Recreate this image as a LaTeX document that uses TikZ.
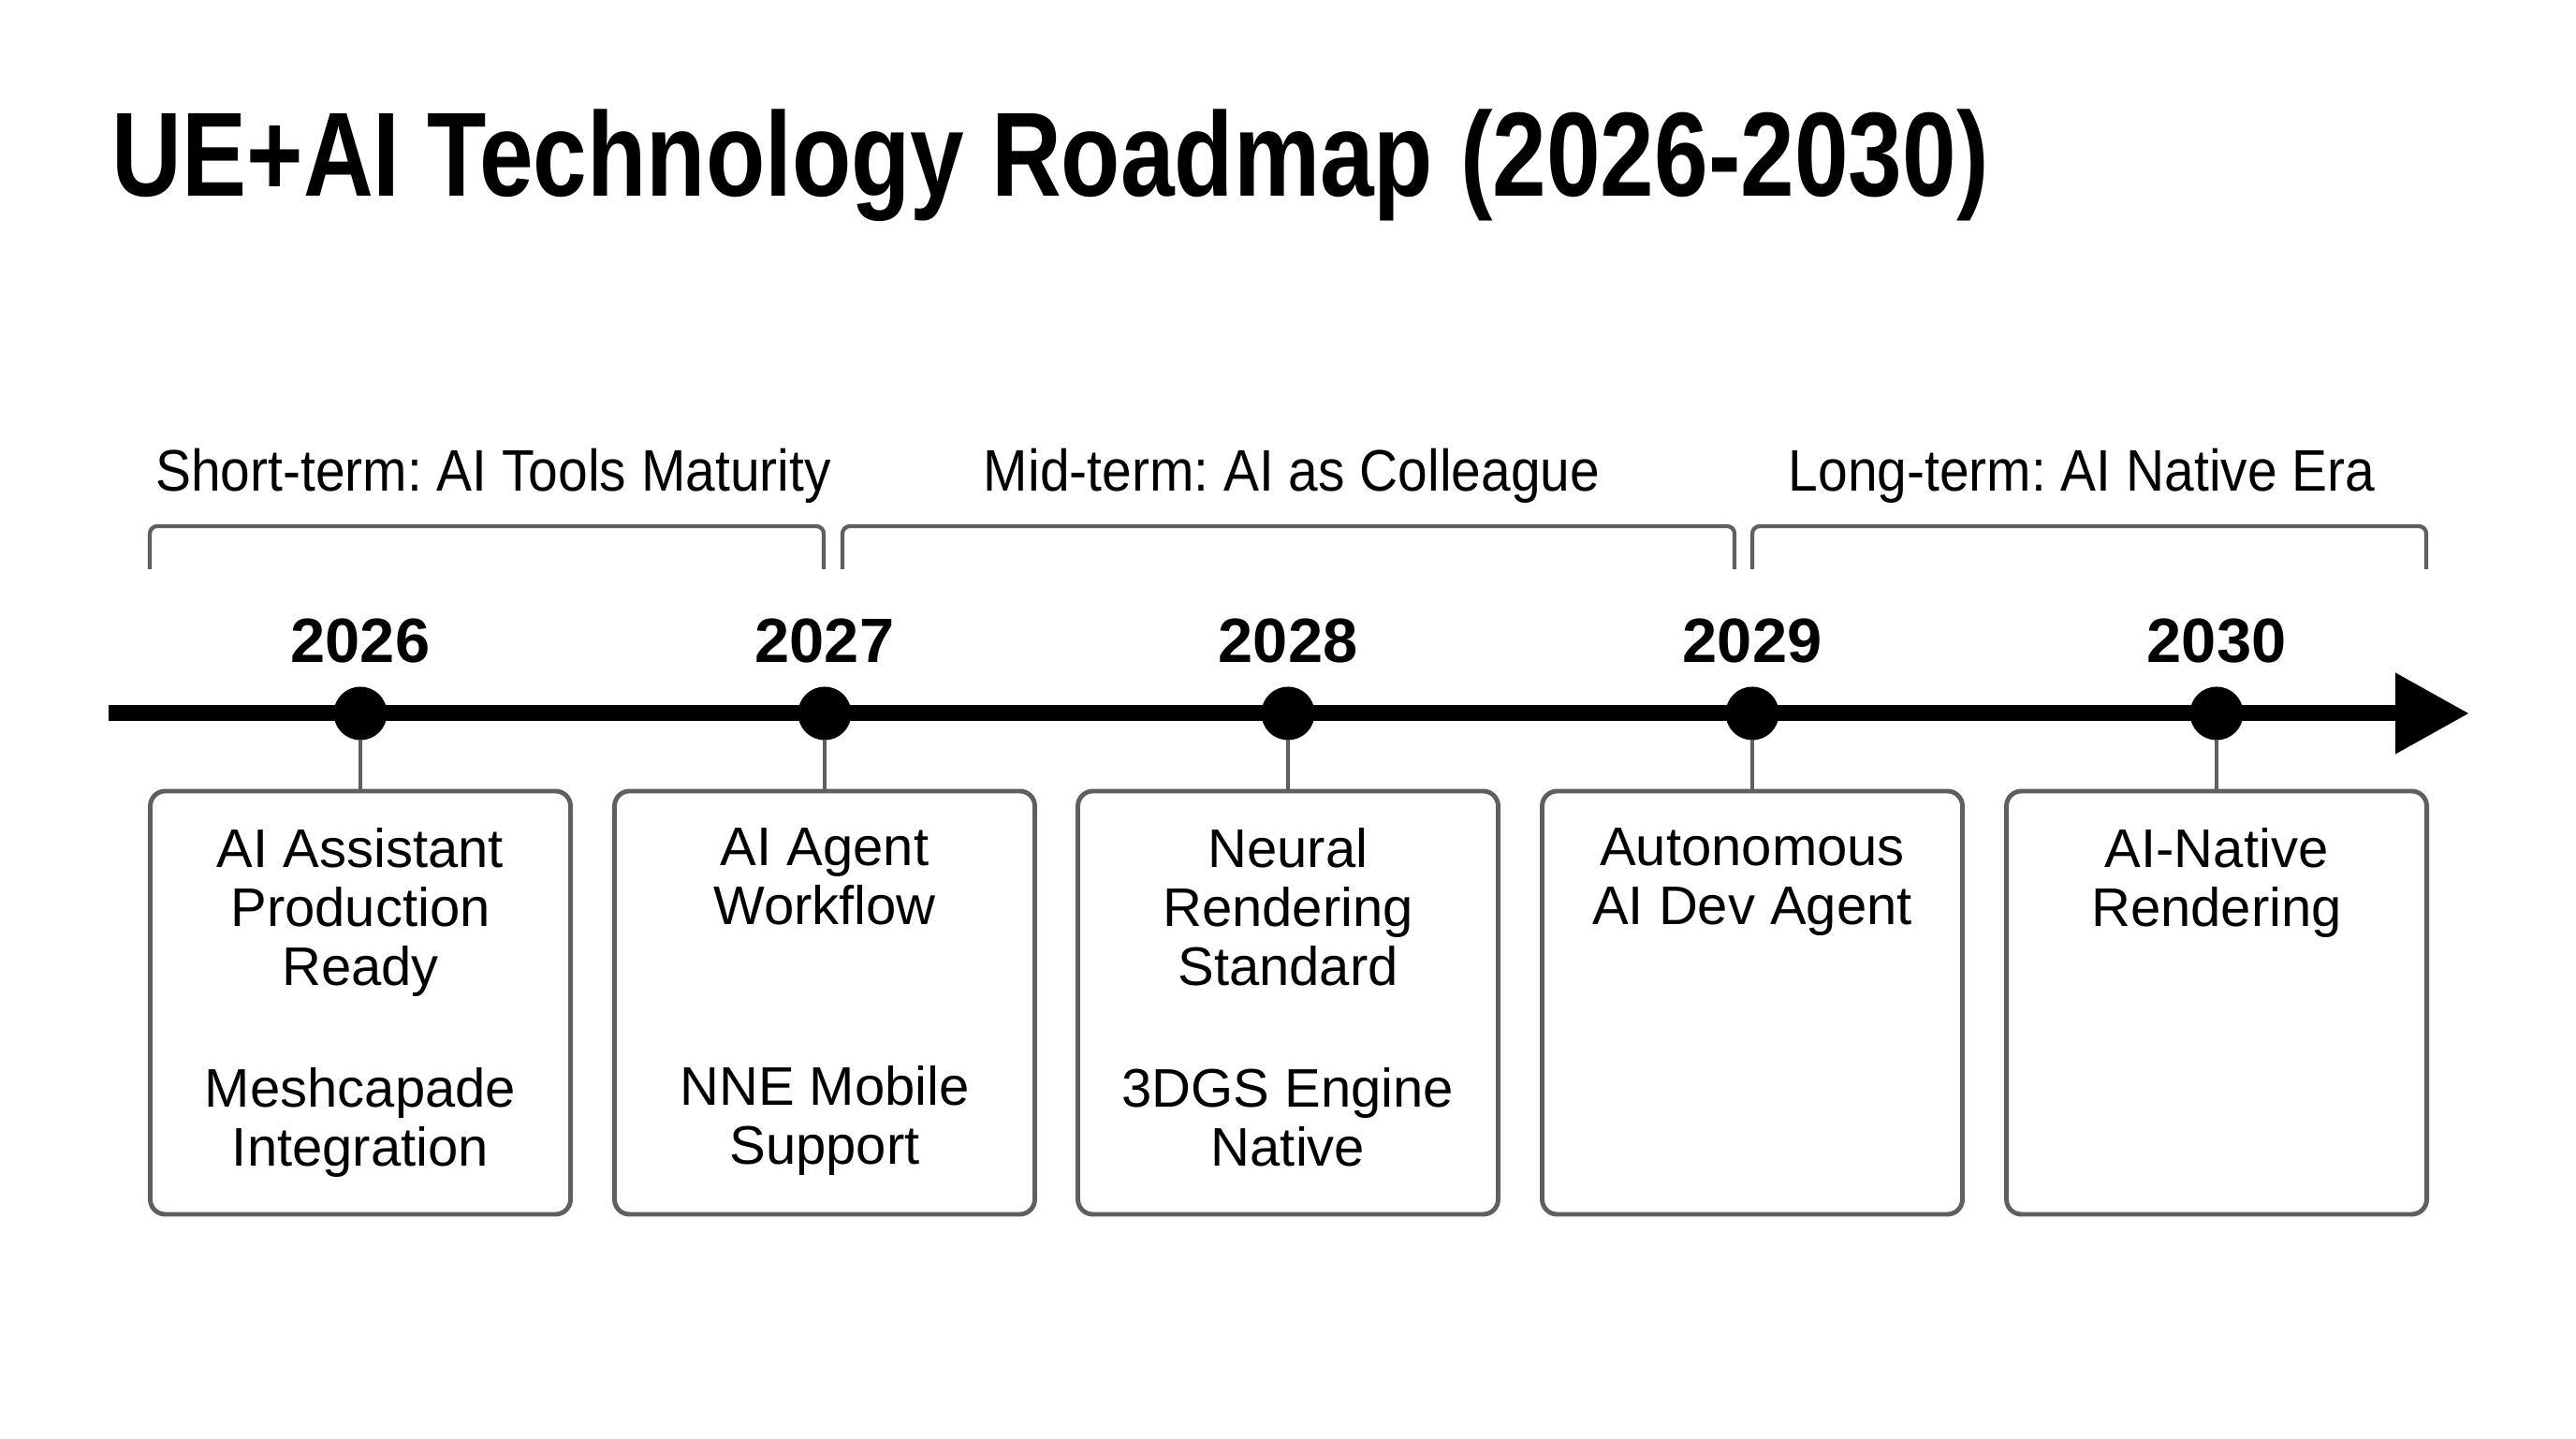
\documentclass[tikz,border=0pt]{standalone}
\usepackage{fontspec}
\setmainfont{Liberation Sans}
\newfontfamily\ttlfont[FakeStretch=0.81]{Liberation Sans}
\newfontfamily\phfont[FakeStretch=0.91]{Liberation Sans}
\usetikzlibrary{arrows.meta, positioning}
\definecolor{edge}{HTML}{5F5F5F}
\frenchspacing

\begin{document}
\begin{tikzpicture}[
    dot/.style={circle, fill=black, inner sep=0pt, outer sep=0pt, minimum size=5.7mm},
    card/.style={draw=edge, line width=1.4pt, rounded corners=1.6mm, minimum width=4.49cm, minimum height=4.52cm, inner sep=0pt, outer sep=0pt},
    txt/.style={inner sep=0pt, align=center, font=\fontsize{16.5}{17.9}\selectfont},
    yr/.style={inner sep=0pt, font=\bfseries\fontsize{19}{22}\selectfont},
    phase/.style={inner sep=0pt, anchor=base, font=\phfont\fontsize{17.8}{20}\selectfont},
    brace/.style={draw=edge, line width=1.2pt, rounded corners=0.8mm},
    stem/.style={draw=edge, line width=1pt},
    axis/.style={line width=1.7mm, -{Triangle[length=7.9mm, width=8.2mm]}}
]
    \fill[white] (0,0) rectangle (27.52,15.36);
    \useasboundingbox (0,0) rectangle (27.52,15.36);

    \node[anchor=base west, inner sep=0pt, font=\ttlfont\bfseries\fontsize{36.4}{40}\selectfont] (title) at (1.19,13.26) {UE+AI Technology Roadmap (2026-2030)};

    \node[phase] (p1) at (5.27,10.11) {Short-term: AI Tools Maturity};
    \node[phase] (p2) at (13.80,10.11) {Mid-term: AI as Colleague};
    \node[phase] (p3) at (22.24,10.11) {Long-term: AI Native Era};

    \draw[brace] (1.60,9.28) -- (1.60,9.74) -- (8.80,9.74) -- (8.80,9.28);
    \draw[brace] (9.00,9.28) -- (9.00,9.74) -- (18.53,9.74) -- (18.53,9.28);
    \draw[brace] (18.72,9.28) -- (18.72,9.74) -- (25.92,9.74) -- (25.92,9.28);

    \coordinate (start) at (1.16,7.74);
    \coordinate (tip) at (26.38,7.74);
    \draw[axis] (start) -- (tip);

    \node[dot] (d26) at (3.85,7.74) {};
    \node[dot] (d27) at (8.81,7.74) {};
    \node[dot] (d28) at (13.76,7.74) {};
    \node[dot] (d29) at (18.72,7.74) {};
    \node[dot] (d30) at (23.68,7.74) {};

    \node[yr, above=2.5mm of d26] (y26) {2026};
    \node[yr, above=2.5mm of d27] (y27) {2027};
    \node[yr, above=2.5mm of d28] (y28) {2028};
    \node[yr, above=2.5mm of d29] (y29) {2029};
    \node[yr, above=2.5mm of d30] (y30) {2030};

    \node[card] (b26) at (3.85,4.65) {};
    \node[card] (b27) at (8.81,4.65) {};
    \node[card] (b28) at (13.76,4.65) {};
    \node[card] (b29) at (18.72,4.65) {};
    \node[card] (b30) at (23.68,4.65) {};

    \draw[stem] (d26) -- (b26);
    \draw[stem] (d27) -- (b27);
    \draw[stem] (d28) -- (b28);
    \draw[stem] (d29) -- (b29);
    \draw[stem] (d30) -- (b30);

    \node[txt, below=3.9mm of b26.north] (t26) {AI Assistant\\Production\\Ready\\[6.7mm]Meshcapade\\Integration};
    \node[txt, below=3.9mm of b27.north] (t27) {AI Agent\\Workflow\\[13mm]NNE Mobile\\Support};
    \node[txt, below=3.9mm of b28.north] (t28) {Neural\\Rendering\\Standard\\[6.7mm]3DGS Engine\\Native};
    \node[txt, below=3.9mm of b29.north] (t29) {Autonomous\\AI Dev Agent};
    \node[txt, below=3.9mm of b30.north] (t30) {AI-Native\\Rendering};
\end{tikzpicture}
\end{document}
